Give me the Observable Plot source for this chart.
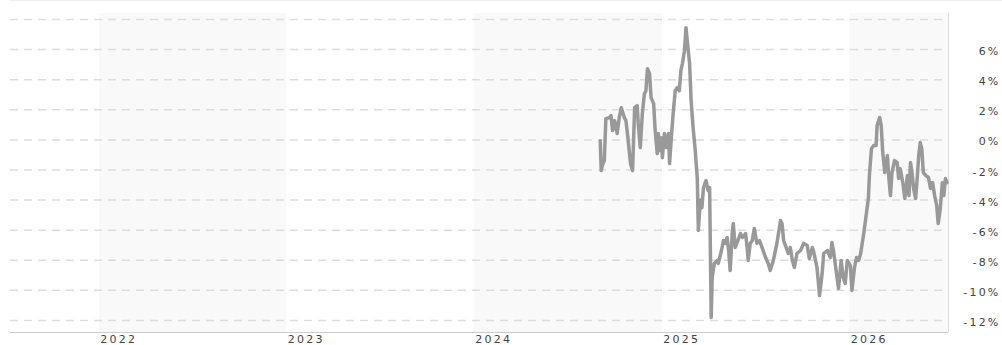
<!DOCTYPE html>
<html><head><meta charset="utf-8">
<script src="https://cdn.jsdelivr.net/npm/d3@7"></script>
<script src="https://cdn.jsdelivr.net/npm/@observablehq/plot@0.6"></script>
<style>
html,body{margin:0;padding:0;background:#fff;}
#wrap{position:relative;width:1002px;height:345px;overflow:hidden;}
#topline{position:absolute;left:10px;right:0;top:0;height:1px;background:#eee;}
#wrap svg text{letter-spacing:2.2px;}
</style></head><body><div id="wrap"><div id="topline"></div></div>
<script>
const dates = [
"2024-09-02","2024-09-04","2024-09-06","2024-09-10","2024-09-13","2024-09-20","2024-09-23","2024-09-26","2024-09-30","2024-10-05",
"2024-10-09","2024-10-13","2024-10-19","2024-10-22","2024-10-25","2024-10-31","2024-11-04","2024-11-08","2024-11-13","2024-11-15",
"2024-11-19","2024-11-23","2024-11-27","2024-11-30","2024-12-03","2024-12-07","2024-12-10","2024-12-15","2024-12-18","2024-12-22",
"2024-12-24","2024-12-28","2024-12-30","2025-01-01","2025-01-05","2025-01-09","2025-01-13","2025-01-15","2025-01-19","2025-01-22",
"2025-01-26","2025-01-30","2025-02-03","2025-02-06","2025-02-09","2025-02-13","2025-02-16","2025-02-19","2025-02-23","2025-02-26",
"2025-03-02","2025-03-06","2025-03-10","2025-03-12","2025-03-16","2025-03-19","2025-03-22","2025-03-27","2025-03-31","2025-04-03",
"2025-04-04","2025-04-06","2025-04-08","2025-04-12","2025-04-18","2025-04-20","2025-04-26","2025-04-30","2025-05-04","2025-05-07",
"2025-05-10","2025-05-13","2025-05-17","2025-05-19","2025-05-23","2025-05-28","2025-06-02","2025-06-06","2025-06-12","2025-06-15",
"2025-06-17","2025-06-21","2025-06-25","2025-06-29","2025-07-04","2025-07-09","2025-07-14","2025-07-21","2025-07-26","2025-07-30",
"2025-08-05","2025-08-12","2025-08-19","2025-08-22","2025-08-25","2025-08-30","2025-09-03","2025-09-07","2025-09-11","2025-09-15",
"2025-09-20","2025-09-27","2025-10-03","2025-10-10","2025-10-14","2025-10-20","2025-10-22","2025-10-29","2025-11-03","2025-11-08",
"2025-11-11","2025-11-18","2025-11-24","2025-11-27","2025-11-30","2025-12-06","2025-12-10","2025-12-15","2025-12-19","2025-12-23",
"2025-12-27","2026-01-02","2026-01-05","2026-01-10","2026-01-14","2026-01-18","2026-01-22","2026-01-28","2026-02-06","2026-02-08",
"2026-02-12","2026-02-16","2026-02-21","2026-02-23","2026-02-28","2026-03-03","2026-03-06","2026-03-10","2026-03-15","2026-03-18",
"2026-03-21","2026-03-24","2026-03-29","2026-04-03","2026-04-06","2026-04-09","2026-04-14","2026-04-18","2026-04-23","2026-04-26",
"2026-04-29","2026-05-02","2026-05-05","2026-05-09","2026-05-12","2026-05-15","2026-05-18","2026-05-21","2026-05-24","2026-05-29",
"2026-06-03","2026-06-07","2026-06-11","2026-06-15","2026-06-19","2026-06-22","2026-06-26","2026-06-30","2026-07-03","2026-07-06",
"2026-07-09"
];
const values = [
-0.05,-2.04,-1.71,-1.37,1.41,1.48,1.61,0.62,1.28,0.42,
1.48,2.14,1.48,1.28,0.42,-1.57,-2.04,2.14,2.28,1.08,
-0.51,1.75,3.07,3.27,4.73,4.40,2.81,2.41,0.62,-0.91,
0.42,-0.71,0.15,-1.18,0.42,-0.51,0.42,-1.57,0.42,1.75,
3.27,3.47,3.27,4.60,5.07,5.93,7.46,6.39,5.07,2.58,
0.75,-0.71,-2.57,-6.02,-4.00,-4.50,-3.17,-2.70,-3.37,-3.17,
-6.02,-11.80,-9.14,-8.21,-8.01,-8.21,-7.35,-6.69,-6.88,-6.49,
-7.35,-8.68,-6.22,-5.56,-7.15,-6.69,-6.22,-6.49,-6.22,-7.15,
-8.01,-6.88,-6.69,-5.89,-6.88,-6.69,-7.15,-7.82,-8.21,-8.68,
-8.01,-6.88,-5.36,-5.56,-6.69,-7.15,-7.55,-7.15,-8.01,-8.48,
-7.55,-7.35,-6.88,-7.02,-7.88,-7.15,-7.35,-8.48,-10.34,-8.88,
-7.55,-7.35,-7.82,-6.82,-7.35,-8.88,-9.87,-8.01,-9.14,-9.54,
-8.01,-8.35,-10.01,-8.48,-7.82,-8.01,-7.55,-6.22,-3.90,-2.37,
-0.58,-0.38,-0.38,0.95,1.48,0.95,-0.84,-2.17,-1.04,-2.57,
-3.70,-2.17,-1.37,-1.51,-2.57,-1.91,-2.84,-3.90,-2.37,-3.70,
-1.51,-2.17,-3.23,-3.90,-2.57,-1.04,-0.18,-0.58,-2.17,-2.37,
-2.50,-3.23,-2.84,-3.70,-4.36,-5.56,-4.56,-2.84,-3.70,-2.57,
-2.84
];
const yearTicks = ["2022-01-01","2023-01-01","2024-01-01","2025-01-01","2026-01-01"];
const bandStarts = ["2022-01-01","2024-01-01","2026-01-01"];
const bandEnds = ["2023-01-01","2025-01-01","2026-07-12"];
const yTickValues = [-12,-10,-8,-6,-4,-2,0,2,4,6];
const gridValues = [-12,-10,-8,-6,-4,-2,0,2,4,6,8];
const xDomain = ["2021-07-12","2026-07-12"];
const yDomain = [-12.8, 8.4];

const data = dates.map((d, i) => ({date: new Date(d), value: values[i]}));
const bands = bandStarts.map((s, i) => ({start: new Date(s), end: new Date(bandEnds[i])}));

const chart = Plot.plot({
  width: 1002, height: 345,
  marginLeft: 10, marginRight: 54, marginTop: 13, marginBottom: 13,
  style: {fontFamily: "'DejaVu Sans', Verdana, sans-serif", fontSize: "11px", color: "#444", background: "transparent"},
  x: {type: "utc", domain: xDomain.map(d => new Date(d)), label: null},
  y: {domain: yDomain, label: null},
  marks: [
    Plot.rect(bands, {x1: "start", x2: "end", fill: "#f9f9f9"}),
    Plot.gridY(gridValues, {stroke: "#ddd", strokeOpacity: 1, strokeDasharray: "8,6", strokeWidth: 1.5}),
    Plot.ruleY([yDomain[0]], {stroke: "#ccc"}),
    Plot.ruleX([new Date(xDomain[1])], {stroke: "#ddd"}),
    Plot.line(data, {x: "date", y: "value", stroke: "#999", strokeWidth: 3.5, strokeLinejoin: "round"}),
    Plot.axisY(yTickValues, {anchor: "right", tickSize: 0, tickPadding: 0, textAnchor: "end", dx: 52, dy: 2, tickFormat: d => d + "%", fill: "#444", label: null}),
    Plot.axisX(yearTicks.map(d => new Date(d)), {anchor: "bottom", tickSize: 0, tickPadding: 3, textAnchor: "start", dx: 1, tickFormat: "%Y", fill: "#444", label: null})
  ]
});
document.getElementById("wrap").appendChild(chart);
</script></body></html>
